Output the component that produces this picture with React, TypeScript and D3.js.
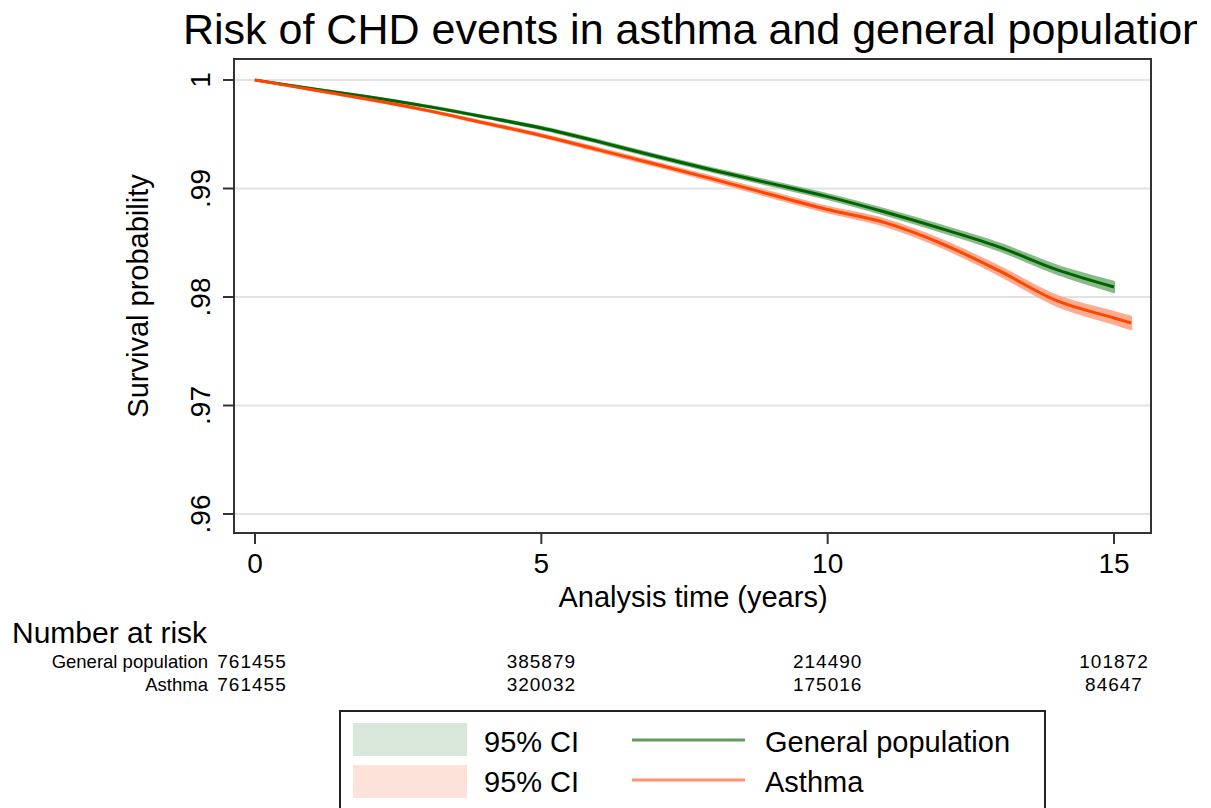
import React from "react";
import * as d3 from "d3";

const title = "Risk of CHD events in asthma and general population";
const xTicks = [0, 5, 10, 15];
const yTicks = [0.96, 0.97, 0.98, 0.99, 1];

const timesGeneral = [0, 1, 2, 3, 4, 5, 6, 7, 8, 9, 10, 11, 12, 13, 14, 15];
const survGeneral = [1.0, 0.9992, 0.99843, 0.99757, 0.9966, 0.99558, 0.99432, 0.99297, 0.99168, 0.99047, 0.98925, 0.98783, 0.98628, 0.9846, 0.98252, 0.98092];
const lowGeneral = [1.0, 0.99917, 0.99838, 0.9975, 0.99651, 0.99547, 0.99419, 0.99282, 0.99151, 0.99027, 0.98903, 0.98758, 0.98599, 0.98427, 0.98213, 0.98044];
const highGeneral = [1.0, 0.99923, 0.99848, 0.99764, 0.99669, 0.99569, 0.99445, 0.99312, 0.99185, 0.99067, 0.98947, 0.98808, 0.98657, 0.98493, 0.98291, 0.9814];

const timesAsthma = [0, 1, 2, 3, 4, 5, 6, 7, 8, 9, 10, 11, 12, 13, 14, 15, 15.3];
const survAsthma = [1.0, 0.9991, 0.9982, 0.9972, 0.99605, 0.99489, 0.99356, 0.99223, 0.99086, 0.98945, 0.98806, 0.98685, 0.9849, 0.9824, 0.97966, 0.97807, 0.9776];
const lowAsthma = [1.0, 0.99906, 0.99814, 0.99712, 0.99595, 0.99477, 0.99341, 0.99206, 0.99066, 0.98922, 0.9878, 0.98655, 0.98456, 0.982, 0.97919, 0.97752, 0.97702];
const highAsthma = [1.0, 0.99914, 0.99826, 0.99728, 0.99615, 0.99501, 0.99371, 0.9924, 0.99106, 0.98968, 0.98832, 0.98715, 0.98524, 0.9828, 0.98013, 0.97862, 0.97818];

const riskTimes = [0, 5, 10, 15];
const riskGroups = ["General population", "Asthma"];
const riskGeneral = [761455, 385879, 214490, 101872];
const riskAsthma = [761455, 320032, 175016, 84647];

const legendLabels = ["95% CI", "General population", "95% CI", "Asthma"];

const FONT = "'Liberation Sans', Arial, Helvetica, sans-serif";

export default function App() {
  const W = 1211;
  const H = 808;
  const frame = { left: 234, top: 59, right: 1151, bottom: 533 };
  const x = d3.scaleLinear().domain([0, 15]).range([255, 1114]);
  const y = d3.scaleLinear().domain([0.96, 1]).range([514, 80]);

  const line = (ts: number[], vs: number[]) =>
    d3
      .line<number>()
      .curve(d3.curveMonotoneX)
      .x((_, i) => x(ts[i]))
      .y((v) => y(v))(vs) || "";
  const area = (ts: number[], lo: number[], hi: number[]) =>
    d3
      .area<number>()
      .curve(d3.curveMonotoneX)
      .x((_, i) => x(ts[i]))
      .y0((_, i) => y(lo[i]))
      .y1((_, i) => y(hi[i]))(lo) || "";

  const fmtY = (v: number) => (v === 1 ? "1" : d3.format(".2f")(v).replace(/^0/, ""));

  const greenLine = "#006400";
  const greenBand = "#7db37d";
  const orangeLine = "#ff4500";
  const orangeBand = "#ffa285";

  const riskRows = [riskGeneral, riskAsthma];

  return (
    <div style={{ position: "absolute", left: 0, top: 0 }}>
      <svg width={W} height={H} style={{ display: "block", background: "#fff" }} fontFamily={FONT}>
        <defs>
          <clipPath id="titleClip">
            <rect x={0} y={0} width={1197} height={58} />
          </clipPath>
        </defs>
        <rect x={0} y={0} width={W} height={H} fill="#fff" />
        <text x={183} y={44} fontSize={43} fill="#000" clipPath="url(#titleClip)">
          {title}
        </text>

        {/* gridlines */}
        {yTicks.map((t) => (
          <line key={"g" + t} x1={frame.left} x2={frame.right} y1={y(t)} y2={y(t)} stroke="#e2e2e2" strokeWidth={2} />
        ))}

        {/* CI bands */}
        <path d={area(timesGeneral, lowGeneral, highGeneral)} fill={greenBand} stroke={greenBand} strokeWidth={2} strokeLinejoin="round" opacity={0.9} />
        <path d={area(timesAsthma, lowAsthma, highAsthma)} fill={orangeBand} stroke={orangeBand} strokeWidth={2} strokeLinejoin="round" opacity={0.9} />
        {/* survival lines */}
        <path d={line(timesGeneral, survGeneral)} fill="none" stroke={greenLine} strokeWidth={3} />
        <path d={line(timesAsthma, survAsthma)} fill="none" stroke={orangeLine} strokeWidth={3} />

        {/* frame */}
        <rect
          x={frame.left}
          y={frame.top}
          width={frame.right - frame.left}
          height={frame.bottom - frame.top}
          fill="none"
          stroke="#333"
          strokeWidth={2}
        />

        {/* y axis */}
        {yTicks.map((t) => (
          <g key={"y" + t}>
            <line x1={frame.left - 11} x2={frame.left} y1={y(t)} y2={y(t)} stroke="#333" strokeWidth={2} />
            <text
              transform={`translate(${frame.left - 24},${y(t)}) rotate(-90)`}
              textAnchor="middle"
              fontSize={28}
              fill="#000"
            >
              {fmtY(t)}
            </text>
          </g>
        ))}
        <text transform={`translate(148,296) rotate(-90)`} textAnchor="middle" fontSize={29} fill="#000">
          Survival probability
        </text>

        {/* x axis */}
        {xTicks.map((t) => (
          <g key={"x" + t}>
            <line x1={x(t)} x2={x(t)} y1={frame.bottom} y2={frame.bottom + 11} stroke="#333" strokeWidth={2} />
            <text x={x(t)} y={573} textAnchor="middle" fontSize={28} fill="#000">
              {t}
            </text>
          </g>
        ))}
        <text x={693} y={607} textAnchor="middle" fontSize={29} fill="#000">
          Analysis time (years)
        </text>

        {/* number at risk */}
        <text x={12} y={643} fontSize={30} fill="#000">
          Number at risk
        </text>
        {riskGroups.map((g, r) => (
          <g key={g}>
            <text x={208} y={668 + r * 23} textAnchor="end" fontSize={18.5} fill="#000">
              {g}
            </text>
            {riskTimes.map((t, i) => (
              <text
                key={t}
                x={x(t) - (i === 0 ? 3 : 0)}
                y={668 + r * 23}
                textAnchor="middle"
                fontSize={19}
                letterSpacing={1}
                fill="#000"
              >
                {riskRows[r][i]}
              </text>
            ))}
          </g>
        ))}

        {/* legend */}
        <rect x={340} y={711} width={705} height={110} fill="#fff" stroke="#222" strokeWidth={2} />
        <rect x={353} y={723} width={114} height={33} fill="#d8e7da" />
        <rect x={353} y={765} width={114} height={33} fill="#fde2d9" />
        <text x={484} y={752} fontSize={29} fill="#000">{legendLabels[0]}</text>
        <text x={484} y={792} fontSize={29} fill="#000">{legendLabels[2]}</text>
        <line x1={632} x2={745} y1={740} y2={740} stroke="#5e9e5e" strokeWidth={3} />
        <line x1={632} x2={745} y1={780} y2={780} stroke="#ff9273" strokeWidth={3} />
        <text x={765} y={752} fontSize={29} fill="#000">{legendLabels[1]}</text>
        <text x={765} y={792} fontSize={29} fill="#000">{legendLabels[3]}</text>
      </svg>
    </div>
  );
}
